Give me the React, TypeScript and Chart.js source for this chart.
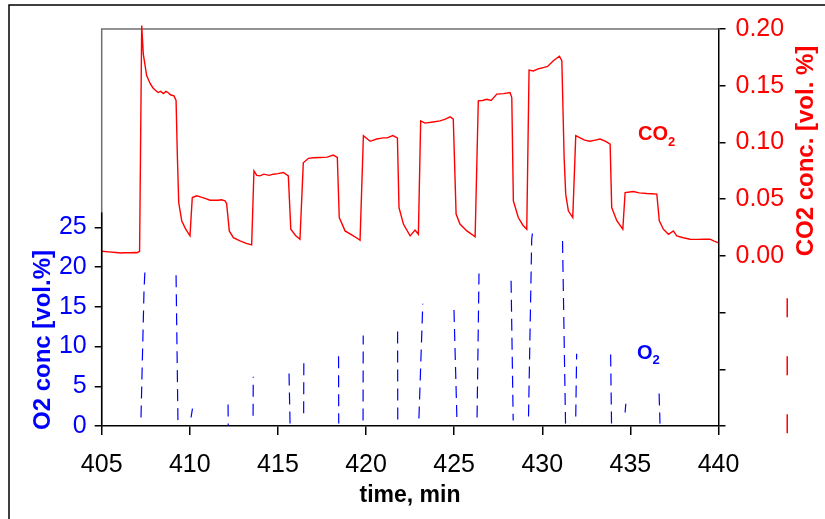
import React, { useEffect, useRef } from 'react';
import { Chart, registerables } from 'chart.js';

Chart.register(...registerables);

// CO2 concentration [vol. %] vs time [min]
const co2Time = [
  405.0, 405.4, 405.8, 406.1, 406.3, 406.6, 406.9, 407.0, 407.15,
  407.27, 407.36, 407.55, 407.75, 407.91, 408.05, 408.2, 408.35, 408.5, 408.65, 408.76, 408.9, 409.1,
  409.22, 409.29, 409.37, 409.54, 409.75, 410.01,
  410.14, 410.39, 410.6, 410.9, 411.15, 411.6, 411.8, 412.0, 412.09,
  412.24, 412.47, 412.85, 413.2, 413.51,
  413.64, 413.8, 413.98, 414.2, 414.5, 414.74, 415.0, 415.31, 415.59,
  415.73, 416.0, 416.25,
  416.44, 416.73, 417.0, 417.39, 417.8, 418.14, 418.37,
  418.48, 418.81, 419.28, 419.5, 419.66,
  419.85, 420.23, 420.6, 420.98, 421.2, 421.52, 421.78,
  421.87, 422.12, 422.5, 422.78, 422.97,
  423.1, 423.35, 423.8, 424.2, 424.5, 424.77, 424.95,
  425.11, 425.33, 425.72, 426.0, 426.19,
  426.37, 426.6, 426.85, 427.1, 427.42, 427.8, 428.17, 428.27,
  428.36, 428.64, 428.9, 429.12,
  429.25, 429.49, 429.8, 430.06, 430.3, 430.63, 430.97, 431.11,
  431.24, 431.33, 431.48, 431.73,
  431.9, 432.15, 432.4, 432.71, 433.0, 433.28, 433.6, 433.85,
  433.94, 434.23, 434.57,
  434.7, 435.17, 435.5, 435.93, 436.2, 436.5,
  436.64, 436.87, 437.16, 437.44, 437.63, 438.0, 438.39, 438.8, 439.2, 439.52, 439.75, 440.0,
];
const co2Values = [
  0.004, 0.0035, 0.003, 0.0025, 0.0028, 0.0027, 0.003, 0.0028, 0.004,
  0.203, 0.178, 0.159, 0.152, 0.148, 0.146, 0.144, 0.145, 0.143, 0.145, 0.144, 0.142, 0.141,
  0.137, 0.09, 0.047, 0.031, 0.024, 0.0176,
  0.0514, 0.053, 0.052, 0.0505, 0.049, 0.049, 0.0495, 0.0485, 0.046,
  0.022, 0.016, 0.0132, 0.011, 0.0097,
  0.075, 0.071, 0.0705, 0.072, 0.071, 0.072, 0.0725, 0.0735, 0.0705,
  0.0235, 0.018, 0.0147,
  0.082, 0.086, 0.0865, 0.0867, 0.087, 0.0888, 0.0867,
  0.0338, 0.022, 0.0176, 0.0155, 0.0138,
  0.106, 0.101, 0.103, 0.104, 0.104, 0.106, 0.104,
  0.0426, 0.028, 0.0176, 0.0227, 0.019,
  0.119, 0.117, 0.118, 0.119, 0.1205, 0.1226, 0.1205,
  0.0368, 0.028, 0.022, 0.019, 0.0168,
  0.1367, 0.137, 0.138, 0.137, 0.1426, 0.143, 0.144, 0.1396,
  0.0485, 0.0338, 0.027, 0.0235,
  0.1637, 0.163, 0.165, 0.166, 0.167, 0.172, 0.176, 0.172,
  0.0867, 0.0544, 0.0397, 0.0338,
  0.106, 0.104, 0.102, 0.101, 0.102, 0.103, 0.101, 0.0985,
  0.0426, 0.031, 0.0235,
  0.0558, 0.0567, 0.0555, 0.055, 0.0548, 0.0544,
  0.031, 0.0235, 0.019, 0.022, 0.0176, 0.016, 0.0147, 0.0145, 0.0146, 0.0147, 0.013, 0.0115,
];

// O2 concentration [vol.%] (null separates the visible transition pieces)
const o2Time = [
  407.23, 407.4, 407.45, 407.45,
  409.22, 409.33, 409.33,
  410.07, 410.15, 410.15,
  412.17, 412.18, 412.18,
  413.59, 413.6, 413.6,
  415.63, 415.69, 415.69,
  416.46, 416.47, 416.47,
  418.44, 418.45, 418.45,
  419.83, 419.84, 419.84,
  421.79, 421.8, 421.8,
  423.0, 423.22, 423.22,
  424.99, 425.16, 425.16,
  426.3, 426.41, 426.41,
  428.23, 428.35, 428.35,
  429.22, 429.4, 429.47, 429.47,
  431.15, 431.32, 431.32,
  431.9, 431.95, 431.95,
  433.88, 433.93, 433.93,
  434.7, 434.74, 434.74,
  436.63, 436.68,
];
const o2Values = [
  1.07, 17.0, 19.4, null,
  19.0, 0.06, null,
  1.07, 2.2, null,
  2.7, 0.06, null,
  1.3, 6.2, null,
  6.6, 0.06, null,
  1.6, 8.4, null,
  8.8, 0.3, null,
  0.7, 11.4, null,
  11.9, 0.3, null,
  0.95, 15.4, null,
  14.6, 0.6, null,
  1.07, 19.2, null,
  18.3, 0.7, null,
  1.2, 23.5, 24.8, null,
  23.3, 0.3, null,
  1.2, 9.1, null,
  9.0, 0.3, null,
  1.7, 2.8, null,
  4.1, 0.3,
];

// stray dashed red trace at the right margin (O2 scale)
const strayTime = [443.9, 443.9];
const strayValues = [16.1, -0.95];

const xMin = 405;
const xMax = 440;
const xStep = 5;
const o2Min = 0;
const o2Max = 50;
const o2LabelMax = 25;
const o2AxisTop = 26.9;
const co2Min = -0.15;
const co2Max = 0.2;
const co2Step = 0.05;

const SANS = "'Liberation Sans', Arial, sans-serif";
const TICK_SIZE = 25;

const decor = {
  id: 'decor',
  beforeDraw(chart: any) {
    const ctx = chart.ctx;
    ctx.save();
    ctx.strokeStyle = '#000';
    ctx.lineWidth = 1.5;
    ctx.beginPath();
    ctx.moveTo(9, chart.height);
    ctx.lineTo(9, 5);
    ctx.lineTo(chart.width, 5);
    ctx.stroke();
    ctx.restore();
  },
  beforeDatasetsDraw(chart: any) {
    const ctx = chart.ctx;
    const { left, right, top, bottom } = chart.chartArea;
    ctx.save();
    ctx.strokeStyle = '#707070';
    ctx.lineWidth = 1.5;
    ctx.beginPath();
    ctx.moveTo(left, bottom);
    ctx.lineTo(left, top);
    ctx.lineTo(right, top);
    ctx.stroke();
    ctx.restore();
  },
  afterDraw(chart: any) {
    const ctx = chart.ctx;
    const { left } = chart.chartArea;
    const yL = chart.scales.yL;
    const x = chart.scales.x;
    ctx.save();
    // left O2 axis line (partial)
    ctx.strokeStyle = '#000';
    ctx.lineWidth = 1.5;
    ctx.beginPath();
    ctx.moveTo(left, yL.getPixelForValue(o2Min) + 0.75);
    ctx.lineTo(left, yL.getPixelForValue(o2AxisTop));
    ctx.stroke();

    // stray dashed trace
    ctx.strokeStyle = '#ff0000';
    ctx.lineWidth = 1.5;
    ctx.setLineDash([19, 39]);
    ctx.beginPath();
    ctx.moveTo(x.getPixelForValue(strayTime[0]), yL.getPixelForValue(strayValues[0]));
    ctx.lineTo(x.getPixelForValue(strayTime[1]), yL.getPixelForValue(strayValues[1]));
    ctx.stroke();
    ctx.setLineDash([]);

    // axis titles
    ctx.textAlign = 'center';
    ctx.textBaseline = 'middle';
    ctx.fillStyle = '#0000ff';
    ctx.font = `bold 24px ${SANS}`;
    ctx.save();
    ctx.translate(43, 340);
    ctx.rotate(-Math.PI / 2);
    ctx.fillText('O2 conc [vol.%]', 0, 0);
    ctx.restore();

    ctx.fillStyle = '#ff0000';
    ctx.save();
    ctx.translate(806, 151);
    ctx.rotate(-Math.PI / 2);
    ctx.fillText('CO2 conc. [vol. %]', 0, 0);
    ctx.restore();

    ctx.fillStyle = '#000';
    ctx.font = `bold 23px ${SANS}`;
    ctx.fillText('time, min', 410, 496);

    // series labels with subscripts
    ctx.textAlign = 'left';
    ctx.textBaseline = 'alphabetic';
    ctx.fillStyle = '#ff0000';
    ctx.font = `bold 20px ${SANS}`;
    ctx.fillText('CO', 638, 140);
    const coW = ctx.measureText('CO').width;
    ctx.font = `bold 13px ${SANS}`;
    ctx.fillText('2', 638 + coW, 146);

    ctx.fillStyle = '#0000ff';
    ctx.font = `bold 20px ${SANS}`;
    ctx.fillText('O', 637, 359);
    const oW = ctx.measureText('O').width;
    ctx.font = `bold 13px ${SANS}`;
    ctx.fillText('2', 637 + oW, 364);
    ctx.restore();
  },
};

export default function App() {
  const canvasRef = useRef<HTMLCanvasElement | null>(null);

  useEffect(() => {
    if (!canvasRef.current) return;
    const co2Data = co2Time.map((t, i) => ({ x: t, y: co2Values[i] }));
    const o2Data = o2Time.map((t, i) => ({ x: t, y: o2Values[i] }));

    const chart = new Chart(canvasRef.current, {
      type: 'line',
      data: {
        datasets: [
          {
            label: 'CO2',
            data: co2Data as any,
            yAxisID: 'yR',
            borderColor: '#ff0000',
            borderWidth: 1.4,
            pointRadius: 0,
            tension: 0,
            clip: { left: 0, right: 0, top: 8, bottom: 0 } as any,
          },
          {
            label: 'O2',
            data: o2Data as any,
            yAxisID: 'yL',
            borderColor: '#0000ff',
            borderWidth: 1.2,
            borderDash: [12, 7],
            pointRadius: 0,
            tension: 0,
            spanGaps: false,
          },
        ],
      },
      options: {
        animation: false,
        responsive: false,
        maintainAspectRatio: false,
        layout: { padding: { top: 29, left: 0, right: 0, bottom: 0 } },
        plugins: { legend: { display: false }, tooltip: { enabled: false }, title: { display: false } },
        scales: {
          x: {
            type: 'linear',
            min: xMin,
            max: xMax,
            afterFit: (s: any) => { s.height = 93; },
            ticks: {
              stepSize: xStep,
              color: '#000',
              padding: 15,
              font: { family: SANS, size: TICK_SIZE },
              maxRotation: 0,
              autoSkip: false,
            },
            grid: { drawOnChartArea: false, tickLength: 9, color: '#000', lineWidth: 1.5 },
            border: { display: true, color: '#000', width: 1.5 },
          },
          yL: {
            type: 'linear',
            position: 'left',
            min: o2Min,
            max: o2Max,
            afterFit: (s: any) => { s.width = 101.7; },
            ticks: {
              stepSize: 5,
              color: '#0000ff',
              padding: 8,
              font: { family: SANS, size: TICK_SIZE },
              callback: (v: any) => (Number(v) <= o2LabelMax ? String(v) : ''),
            },
            grid: {
              drawOnChartArea: false,
              tickLength: 7,
              lineWidth: 1.5,
              color: (c: any) => (c.tick && c.tick.value <= o2LabelMax ? '#000' : 'rgba(0,0,0,0)'),
            },
            border: { display: false },
          },
          yR: {
            type: 'linear',
            position: 'right',
            min: co2Min,
            max: co2Max,
            afterFit: (s: any) => { s.width = 106.5; },
            ticks: {
              stepSize: co2Step,
              color: '#ff0000',
              padding: 10,
              font: { family: SANS, size: TICK_SIZE },
              callback: (v: any) => (Number(v) < -1e-9 ? '' : Number(v).toFixed(2)),
            },
            grid: { drawOnChartArea: false, tickLength: 7, color: '#000', lineWidth: 1.5 },
            border: { display: true, color: '#000', width: 1.5 },
          },
        },
      },
      plugins: [decor],
    });
    return () => chart.destroy();
  }, []);

  return (
    <div style={{ position: 'fixed', left: 0, top: 0, width: 825, height: 519, background: '#fff' }}>
      <canvas ref={canvasRef} width={825} height={519} style={{ width: 825, height: 519, display: 'block' }} />
    </div>
  );
}
